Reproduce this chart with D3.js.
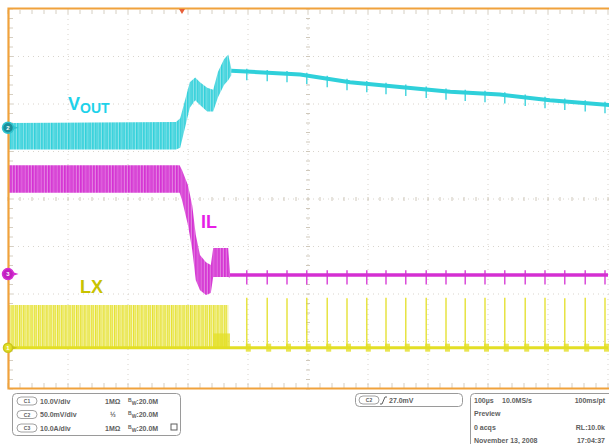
<!DOCTYPE html>
<html><head><meta charset="utf-8">
<script src="https://cdn.jsdelivr.net/npm/d3@7"></script>
<style>html,body{margin:0;padding:0;background:#fff;}svg{display:block;}</style>
</head><body>
<svg id="scope" width="609" height="444"></svg>
<script>
// ---------- acquisition data (time in µs relative to the trigger) ----------
// C2  VOUT, mV, ripple envelope through the load step
const voutEnvT  = [-290, -10, -3,  5, 13, 22, 30, 42, 52, 60, 70, 77, 82];
const voutEnvHi = [   5,   6, 10, 29, 48, 53, 48, 42, 40, 59, 72, 77, 63];
const voutEnvLo = [ -23, -23,-21,  0, 21, 29, 24, 17, 17, 32, 45, 50, 55];
// C2  VOUT after the transient (pulse-skipping, slow droop), mV
const voutTailT = [82, 197, 280, 363, 447, 530, 613, 712];
const voutTail  = [60,  56,  48,  43,  38,  35,  29,  24];
const voutSpikeDown = 9, voutSpikeUp = 3;

// C3  IL, A, envelope of inductor current
const ilEnvT  = [-290, -4,    0,   10,   17,  23,   30,   40,  48,   52,   77,   80];
const ilEnvHi = [22.9, 22.9, 21.9, 18.7, 14.5, 8.2,  4.0,  2.5, 1.9,  5.5,  5.5,  0.4];
const ilEnvLo = [17.1, 17.1, 15.6, 10.3,  5.1,-1.3, -3.4, -4.4,-4.0, -0.6, -0.6, -0.8];
const ilTailLevel = -0.2;
const ilSpikeUp = 1.0, ilSpikeDown = 2.0;

// C1  LX, V : continuous switching burst, then isolated pulses
const lxBurstT = [-290, 77];
const lxBurstHigh = 9.0;
const lxStepT = [52, 80];
const lxStepLevel = 3.0;
const lxPulseT = [108, 142, 175, 208, 242, 275, 308, 340, 373, 407, 440, 472, 505, 538, 572, 605, 638, 672, 705];
const lxPulseV = [10.5, 10.5, 10.4, 10.5, 10.5, 10.4, 10.5, 10.5, 10.5, 10.5, 10.5, 10.4, 10.5, 10.5, 10.5, 10.5, 10.4, 10.5, 10.5];

// channel settings (offset in divisions, units per division)
const channels = {
  c1: {offset: -3.13, perDiv: 10},   // LX   10.0V/div
  c2: {offset:  1.50, perDiv: 50},   // VOUT 50.0mV/div
  c3: {offset: -1.58, perDiv: 10}    // IL   10.0A/div
};

// readout texts
const chanRows = [
  {id: "C1", scale: "10.0V/div",  imp: "1MΩ"},
  {id: "C2", scale: "50.0mV/div", imp: "½"},
  {id: "C3", scale: "10.0A/div",  imp: "1MΩ"}
];
const bwText = ":20.0M";
const trigText = "27.0mV";
const timeRows = [
  ["100µs", "10.0MS/s", "100ms/pt"],
  ["Preview", "", ""],
  ["0 acqs", "", "RL:10.0k"],
  ["November 13, 2008", "", "17:04:37"]
];

// ---------- drawing ----------
const COL = {
  frame: "#f0a23c", grid: "#d9d4cc",
  cyan: "#2fd0da", cyanLbl: "#1ed2ea",
  mag: "#d42fd2", magLbl: "#e61ee6",
  yel: "#e3df25", yelLbl: "#c8c200",
  text: "#5e5e5e", box: "#9a9a9a"
};

const svg = d3.select("#scope");
const x = d3.scaleLinear().domain([-290, 710]).range([8, 608]);
const yDiv = d3.scaleLinear().domain([-4, 4]).range([389, 9]);
const yOf = ch => v => yDiv(channels[ch].offset + v / channels[ch].perDiv);
const y1 = yOf("c1"), y2 = yOf("c2"), y3 = yOf("c3");

const defs = svg.append("defs");
function stripes(id, bg, fg, w) {
  const p = defs.append("pattern").attr("id", id)
    .attr("patternUnits", "userSpaceOnUse").attr("width", w).attr("height", 40);
  p.append("rect").attr("width", w).attr("height", 40).attr("fill", bg);
  p.append("rect").attr("x", 0).attr("width", 1.4).attr("height", 40).attr("fill", fg);
  p.append("rect").attr("x", w * 0.5).attr("width", 1).attr("height", 40).attr("fill", fg).attr("opacity", 0.8);
}
stripes("stCyan", "#9fe7ec", COL.cyan, 3.4);
stripes("stMag", "#e79be6", COL.mag, 3.2);
stripes("stYel", "#f7f5c0", "#e6e232", 3.8);

const clip = defs.append("clipPath").attr("id", "plotClip");
clip.append("rect").attr("x", 9).attr("y", 9).attr("width", 600).attr("height", 379);

// grid
const gGrid = svg.append("g");
const divT = d3.range(-290, 711, 100);
gGrid.selectAll(".vg").data(divT.slice(1)).join("line")
  .attr("x1", d => x(d)).attr("x2", d => x(d)).attr("y1", 9).attr("y2", 389)
  .attr("stroke", COL.grid).attr("stroke-width", 1).attr("stroke-dasharray", "1,4");
gGrid.selectAll(".hg").data(d3.range(-3, 4)).join("line")
  .attr("x1", 8).attr("x2", 609).attr("y1", d => yDiv(d)).attr("y2", d => yDiv(d))
  .attr("stroke", COL.grid).attr("stroke-width", 1).attr("stroke-dasharray", "1,4");

// center cross minor ticks
const xc = x(210), yc = yDiv(0);
const minorX = d3.range(-290, 711, 20), minorY = d3.range(-4, 4.01, 0.2);
gGrid.selectAll(".mx").data(minorX).join("line")
  .attr("x1", d => x(d)).attr("x2", d => x(d)).attr("y1", yc - 2).attr("y2", yc + 2)
  .attr("stroke", "#cfc8bb").attr("stroke-width", 1);
gGrid.selectAll(".my").data(minorY).join("line")
  .attr("x1", xc - 2).attr("x2", xc + 2).attr("y1", d => yDiv(d)).attr("y2", d => yDiv(d))
  .attr("stroke", "#cfc8bb").attr("stroke-width", 1);
// border minor ticks
gGrid.selectAll(".tt").data(minorX).join("line")
  .attr("x1", d => x(d)).attr("x2", d => x(d)).attr("y1", 10).attr("y2", 14)
  .attr("stroke", "#d6cfc2");
gGrid.selectAll(".bt").data(minorX).join("line")
  .attr("x1", d => x(d)).attr("x2", d => x(d)).attr("y1", 383).attr("y2", 388)
  .attr("stroke", "#d6cfc2");
gGrid.selectAll(".lt").data(minorY).join("line")
  .attr("x1", 9).attr("x2", 13).attr("y1", d => yDiv(d)).attr("y2", d => yDiv(d))
  .attr("stroke", "#d6cfc2");

const gTr = svg.append("g").attr("clip-path", "url(#plotClip)");

// ----- C1 LX -----
const burstArea = d3.area().x(d => x(d)).y0(y1(0)).y1(y1(lxBurstHigh));
gTr.append("path").datum(lxBurstT).attr("d", burstArea).attr("fill", "url(#stYel)");
gTr.append("path").datum(lxStepT)
  .attr("d", d3.area().x(d => x(d)).y0(y1(0)).y1(y1(lxStepLevel)))
  .attr("fill", COL.yel).attr("opacity", 0.75);
gTr.append("line").attr("x1", x(-290)).attr("x2", x(710))
  .attr("y1", y1(0)).attr("y2", y1(0)).attr("stroke", COL.yel).attr("stroke-width", 3);
gTr.selectAll(".lxp").data(lxPulseT).join("line")
  .attr("x1", d => x(d)).attr("x2", d => x(d))
  .attr("y1", y1(0)).attr("y2", (d, i) => y1(lxPulseV[i]))
  .attr("stroke", COL.yel).attr("stroke-width", 1.3);
gTr.selectAll(".lxr").data(lxPulseT).join("rect")
  .attr("x", d => x(d) - 1).attr("width", 5)
  .attr("y", y1(0) - 4).attr("height", 8)
  .attr("fill", COL.yel).attr("opacity", 0.8);

// ----- C3 IL -----
const ilEnv = ilEnvT.map((t, i) => ({t, hi: ilEnvHi[i], lo: ilEnvLo[i]}));
const bandArea = (yf) => d3.area().x(d => x(d.t)).y0(d => yf(d.lo)).y1(d => yf(d.hi));
gTr.append("path").datum(ilEnv).attr("d", bandArea(y3)).attr("fill", "url(#stMag)");
gTr.append("line").attr("x1", x(80)).attr("x2", x(710))
  .attr("y1", y3(ilTailLevel)).attr("y2", y3(ilTailLevel))
  .attr("stroke", COL.mag).attr("stroke-width", 3.5);
gTr.selectAll(".ils").data(lxPulseT).join("line")
  .attr("x1", d => x(d)).attr("x2", d => x(d))
  .attr("y1", y3(ilTailLevel + ilSpikeUp)).attr("y2", y3(ilTailLevel - ilSpikeDown))
  .attr("stroke", COL.mag).attr("stroke-width", 1.3);

// ----- C2 VOUT -----
const voutEnv = voutEnvT.map((t, i) => ({t, hi: voutEnvHi[i], lo: voutEnvLo[i]}));
gTr.append("path").datum(voutEnv).attr("d", bandArea(y2)).attr("fill", "url(#stCyan)");
const tailData = voutTailT.map((t, i) => ({t, v: voutTail[i]}));
gTr.append("path").datum(tailData)
  .attr("d", d3.line().x(d => x(d.t)).y(d => y2(d.v)))
  .attr("fill", "none").attr("stroke", COL.cyan).attr("stroke-width", 4);
const tailAt = d3.scaleLinear().domain(voutTailT).range(voutTail);
gTr.selectAll(".vs").data(lxPulseT).join("line")
  .attr("x1", d => x(d)).attr("x2", d => x(d))
  .attr("y1", d => y2(tailAt(d) + voutSpikeUp)).attr("y2", d => y2(tailAt(d) - voutSpikeDown))
  .attr("stroke", COL.cyan).attr("stroke-width", 1.3);

// frame
svg.append("path").attr("d", "M609,8.5 H8.5 V388.5 H609")
  .attr("fill", "none").attr("stroke", COL.frame).attr("stroke-width", 2.2);

// trigger position marker
svg.append("path").attr("d", `M${x(0) - 3},9 L${x(0) + 3},9 L${x(0)},14 Z`).attr("fill", "#e8603a");

// channel ground markers
function marker(yPos, fill, stroke, label, r) {
  const g = svg.append("g").attr("transform", `translate(8,${yPos})`);
  g.append("path").attr("d", `M${r - 1},-2 L${r + 5},0 L${r - 1},2 Z`).attr("fill", stroke);
  g.append("circle").attr("r", r).attr("fill", fill).attr("stroke", stroke).attr("stroke-width", 1.5);
  g.append("text").attr("text-anchor", "middle").attr("dy", "0.35em")
    .attr("font-family", "Liberation Sans, Arial").attr("font-size", 6).attr("font-weight", "bold")
    .attr("fill", "#fff").text(label);
}
marker(y2(0), "#1b8f9a", "#2fc3cf", "2", 5.5);
marker(y3(0), "#c21fc0", "#d42fd2", "3", 5.5);
marker(y1(0), "#e3df25", "#c9c51a", "1", 4.5);

// trace labels
const lbl = svg.append("g").attr("font-family", "Liberation Sans, Arial").attr("font-weight", "bold");
const vt = lbl.append("text").attr("x", 68).attr("y", 110).attr("fill", COL.cyanLbl);
vt.append("tspan").attr("font-size", 18).text("V");
vt.append("tspan").attr("font-size", 14).attr("dy", 3).text("OUT");
lbl.append("text").attr("x", 201).attr("y", 228).attr("font-size", 18).attr("fill", COL.magLbl).text("IL");
lbl.append("text").attr("x", 80).attr("y", 293).attr("font-size", 18).attr("fill", COL.yelLbl).text("LX");

// ---------- readout panels ----------
const info = svg.append("g").attr("font-family", "Liberation Sans, Arial")
  .attr("font-weight", "bold").attr("font-size", 7).attr("fill", COL.text);

function pill(g, px, py, id) {
  g.append("rect").attr("x", px).attr("y", py - 4).attr("width", 20).attr("height", 8).attr("rx", 4)
    .attr("fill", "#fff").attr("stroke", "#8a8a8a").attr("stroke-width", 0.8);
  g.append("text").attr("x", px + 10).attr("y", py + 2).attr("text-anchor", "middle")
    .attr("font-size", 5).text(id);
}

info.append("rect").attr("x", 12.5).attr("y", 393.5).attr("width", 168).attr("height", 42).attr("rx", 4)
  .attr("fill", "#fff").attr("stroke", COL.box).attr("stroke-width", 1);
chanRows.forEach((r, i) => {
  const ry = 401 + i * 13.5;
  pill(info, 17, ry, r.id);
  info.append("text").attr("x", 40).attr("y", ry + 2.5).text(r.scale);
  info.append("text").attr("x", r.imp === "1MΩ" ? 105 : 110).attr("y", ry + 2.5).text(r.imp);
  const bw = info.append("text").attr("x", 128).attr("y", ry + 2.5);
  bw.append("tspan").attr("font-size", 5).attr("dy", -2).text("B");
  bw.append("tspan").attr("font-size", 5).attr("dy", 3).text("W");
  bw.append("tspan").attr("dy", -1).text(bwText);
});
info.append("rect").attr("x", 171).attr("y", 424).attr("width", 6).attr("height", 6)
  .attr("fill", "none").attr("stroke", COL.text).attr("stroke-width", 1);

info.append("rect").attr("x", 355.5).attr("y", 393.5).attr("width", 107).attr("height", 13).attr("rx", 4)
  .attr("fill", "#fff").attr("stroke", COL.box).attr("stroke-width", 1);
pill(info, 359, 400, "C2");
info.append("path").attr("d", "M380,404 L382,404 L385,397 L387,397").attr("fill", "none")
  .attr("stroke", COL.text).attr("stroke-width", 1);
info.append("text").attr("x", 389).attr("y", 402.5).text(trigText);

info.append("rect").attr("x", 470.5).attr("y", 393.5).attr("width", 150).attr("height", 60).attr("rx", 4)
  .attr("fill", "#fff").attr("stroke", COL.box).attr("stroke-width", 1);
timeRows.forEach((r, i) => {
  const ry = 403 + i * 13.3;
  info.append("text").attr("x", 474).attr("y", ry).text(r[0]);
  if (r[1]) info.append("text").attr("x", 502).attr("y", ry).text(r[1]);
  if (r[2]) info.append("text").attr("x", 605).attr("y", ry).attr("text-anchor", "end").text(r[2]);
});
</script>
</body></html>
